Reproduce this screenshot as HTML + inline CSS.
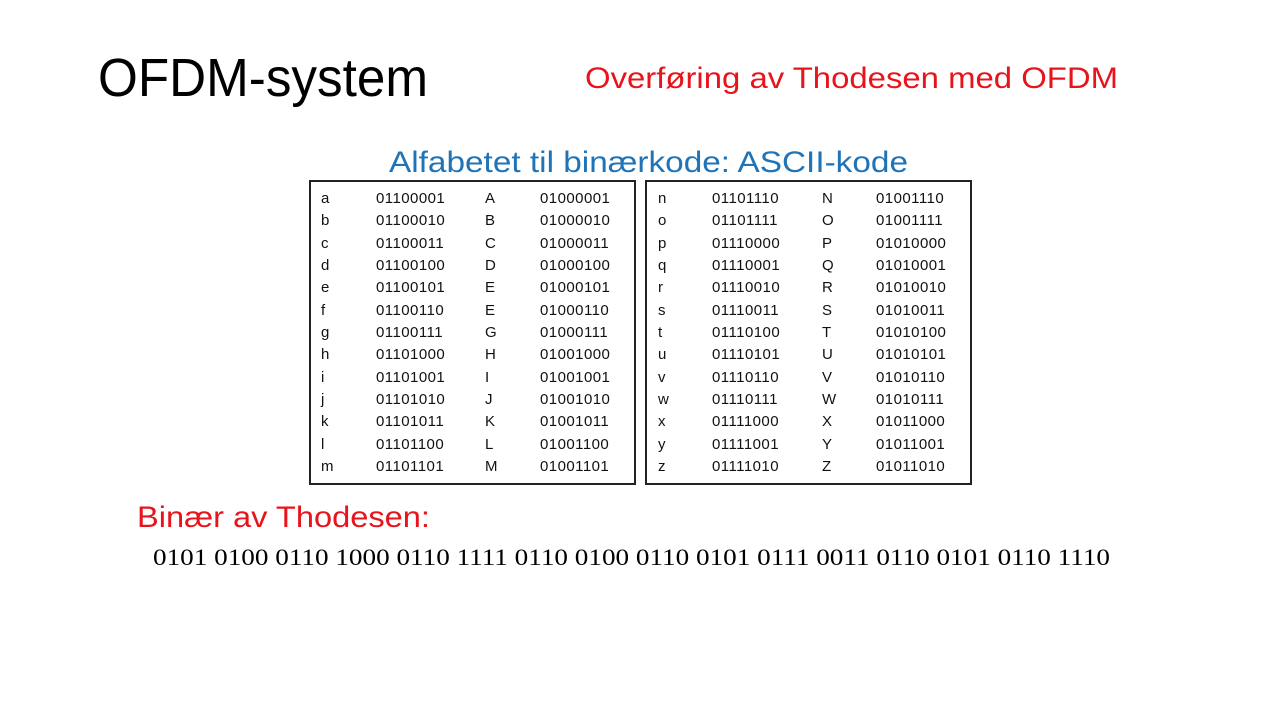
<!DOCTYPE html>
<html><head><meta charset="utf-8"><style>
html,body{margin:0;padding:0;background:#fff;width:1280px;height:720px;overflow:hidden}
svg{display:block}
.t{font-family:"Liberation Sans",sans-serif;font-size:15px;letter-spacing:0.45px;fill:#111}
</style></head><body>
<svg width="1280" height="720" xmlns="http://www.w3.org/2000/svg">
<text x="98" y="96" font-family="Liberation Sans, sans-serif" font-size="54" fill="#000" textLength="330" lengthAdjust="spacingAndGlyphs">OFDM-system</text>
<text x="585" y="88" font-family="Liberation Sans, sans-serif" font-size="30" fill="#e8141b" textLength="533" lengthAdjust="spacingAndGlyphs">Overføring av Thodesen med OFDM</text>
<text x="389" y="172" font-family="Liberation Sans, sans-serif" font-size="30" fill="#1f73b7" textLength="519" lengthAdjust="spacingAndGlyphs">Alfabetet til binærkode: ASCII-kode</text>
<text x="137" y="527" font-family="Liberation Sans, sans-serif" font-size="30" fill="#e8141b" textLength="293" lengthAdjust="spacingAndGlyphs">Binær av Thodesen:</text>
<text x="153" y="565" font-family="Liberation Serif, serif" font-size="23" fill="#000" textLength="957" lengthAdjust="spacingAndGlyphs">0101 0100 0110 1000 0110 1111 0110 0100 0110 0101 0111 0011 0110 0101 0110 1110</text>
<rect x="310" y="181" width="325" height="303" fill="none" stroke="#222" stroke-width="2"/>
<rect x="646" y="181" width="325" height="303" fill="none" stroke="#222" stroke-width="2"/>
<g class="t">
<text x="321" y="203">a</text><text x="376" y="203">01100001</text><text x="485" y="203">A</text><text x="540" y="203">01000001</text>
<text x="321" y="225">b</text><text x="376" y="225">01100010</text><text x="485" y="225">B</text><text x="540" y="225">01000010</text>
<text x="321" y="248">c</text><text x="376" y="248">01100011</text><text x="485" y="248">C</text><text x="540" y="248">01000011</text>
<text x="321" y="270">d</text><text x="376" y="270">01100100</text><text x="485" y="270">D</text><text x="540" y="270">01000100</text>
<text x="321" y="292">e</text><text x="376" y="292">01100101</text><text x="485" y="292">E</text><text x="540" y="292">01000101</text>
<text x="321" y="315">f</text><text x="376" y="315">01100110</text><text x="485" y="315">E</text><text x="540" y="315">01000110</text>
<text x="321" y="337">g</text><text x="376" y="337">01100111</text><text x="485" y="337">G</text><text x="540" y="337">01000111</text>
<text x="321" y="359">h</text><text x="376" y="359">01101000</text><text x="485" y="359">H</text><text x="540" y="359">01001000</text>
<text x="321" y="382">i</text><text x="376" y="382">01101001</text><text x="485" y="382">I</text><text x="540" y="382">01001001</text>
<text x="321" y="404">j</text><text x="376" y="404">01101010</text><text x="485" y="404">J</text><text x="540" y="404">01001010</text>
<text x="321" y="426">k</text><text x="376" y="426">01101011</text><text x="485" y="426">K</text><text x="540" y="426">01001011</text>
<text x="321" y="449">l</text><text x="376" y="449">01101100</text><text x="485" y="449">L</text><text x="540" y="449">01001100</text>
<text x="321" y="471">m</text><text x="376" y="471">01101101</text><text x="485" y="471">M</text><text x="540" y="471">01001101</text>

<text x="658" y="203">n</text><text x="712" y="203">01101110</text><text x="822" y="203">N</text><text x="876" y="203">01001110</text>
<text x="658" y="225">o</text><text x="712" y="225">01101111</text><text x="822" y="225">O</text><text x="876" y="225">01001111</text>
<text x="658" y="248">p</text><text x="712" y="248">01110000</text><text x="822" y="248">P</text><text x="876" y="248">01010000</text>
<text x="658" y="270">q</text><text x="712" y="270">01110001</text><text x="822" y="270">Q</text><text x="876" y="270">01010001</text>
<text x="658" y="292">r</text><text x="712" y="292">01110010</text><text x="822" y="292">R</text><text x="876" y="292">01010010</text>
<text x="658" y="315">s</text><text x="712" y="315">01110011</text><text x="822" y="315">S</text><text x="876" y="315">01010011</text>
<text x="658" y="337">t</text><text x="712" y="337">01110100</text><text x="822" y="337">T</text><text x="876" y="337">01010100</text>
<text x="658" y="359">u</text><text x="712" y="359">01110101</text><text x="822" y="359">U</text><text x="876" y="359">01010101</text>
<text x="658" y="382">v</text><text x="712" y="382">01110110</text><text x="822" y="382">V</text><text x="876" y="382">01010110</text>
<text x="658" y="404">w</text><text x="712" y="404">01110111</text><text x="822" y="404">W</text><text x="876" y="404">01010111</text>
<text x="658" y="426">x</text><text x="712" y="426">01111000</text><text x="822" y="426">X</text><text x="876" y="426">01011000</text>
<text x="658" y="449">y</text><text x="712" y="449">01111001</text><text x="822" y="449">Y</text><text x="876" y="449">01011001</text>
<text x="658" y="471">z</text><text x="712" y="471">01111010</text><text x="822" y="471">Z</text><text x="876" y="471">01011010</text>
</g>
</svg>
</body></html>
